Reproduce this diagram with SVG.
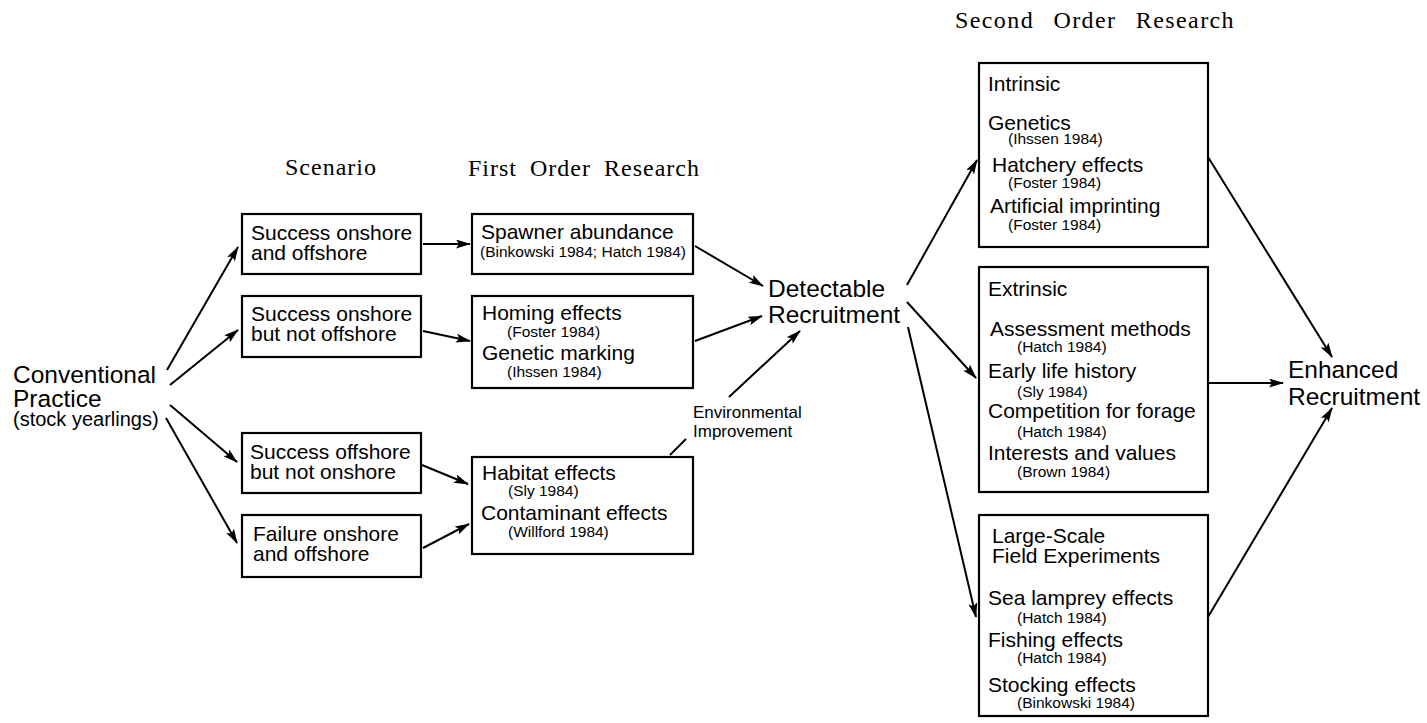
<svg xmlns="http://www.w3.org/2000/svg" width="1427" height="723" viewBox="0 0 1427 723">
<style>
.box{fill:#fff;stroke:#000;stroke-width:2.2}
.t{font-family:"Liberation Sans",Arial,sans-serif;font-size:21px;fill:#000}
.c{font-family:"Liberation Sans",Arial,sans-serif;font-size:15.5px;fill:#000}
.big{font-family:"Liberation Sans",Arial,sans-serif;font-size:24.5px;fill:#000}
.env{font-family:"Liberation Sans",Arial,sans-serif;font-size:17px;fill:#000}
.hd{font-family:"Liberation Serif","Times New Roman",serif;font-size:24px;letter-spacing:1px;word-spacing:8px;fill:#000}
.ln{stroke:#000;stroke-width:2;fill:none}
.ar{stroke:#000;stroke-width:2;fill:none;marker-end:url(#ah)}
</style>
<defs>
<marker id="ah" viewBox="0 0 15 9" refX="14" refY="4.5" markerWidth="15" markerHeight="9" markerUnits="userSpaceOnUse" orient="auto">
<path d="M0,0 L15,4.5 L0,9 L3,4.5 z" fill="#000"/>
</marker>
</defs>
<rect width="1427" height="723" fill="#fff"/>

<g id="headers">
<text class="hd" x="285" y="175">Scenario</text>
<text class="hd" x="468" y="176" style="word-spacing:6px">First Order Research</text>
<text class="hd" x="955" y="28" style="letter-spacing:1.4px;word-spacing:12px">Second Order Research</text>
</g>

<g id="conventional">
<text class="big" x="13" y="383">Conventional</text>
<text class="big" x="13" y="407">Practice</text>
<text class="t" x="13" y="426" style="font-size:20px">(stock yearlings)</text>
</g>

<g id="scen1">
<rect class="box" x="242" y="214" width="179" height="60"/>
<text class="t" x="251" y="240">Success onshore</text>
<text class="t" x="251" y="260">and offshore</text>
</g>
<g id="scen2">
<rect class="box" x="242" y="296" width="179" height="61"/>
<text class="t" x="251" y="321">Success onshore</text>
<text class="t" x="251" y="341">but not offshore</text>
</g>
<g id="scen3">
<rect class="box" x="242" y="433" width="179" height="60"/>
<text class="t" x="250" y="459">Success offshore</text>
<text class="t" x="250" y="479">but not onshore</text>
</g>
<g id="scen4">
<rect class="box" x="242" y="515" width="179" height="62"/>
<text class="t" x="253" y="541">Failure onshore</text>
<text class="t" x="253" y="561">and offshore</text>
</g>

<g id="spawner">
<rect class="box" x="472" y="214" width="221" height="60"/>
<text class="t" x="481" y="239">Spawner abundance</text>
<text class="c" x="480" y="257">(Binkowski 1984; Hatch 1984)</text>
</g>
<g id="homing">
<rect class="box" x="472" y="296" width="221" height="92"/>
<text class="t" x="482" y="320">Homing effects</text>
<text class="c" x="507" y="337">(Foster 1984)</text>
<text class="t" x="482" y="360">Genetic marking</text>
<text class="c" x="507" y="377">(Ihssen 1984)</text>
</g>
<g id="habitat">
<rect class="box" x="472" y="457" width="221" height="97"/>
<text class="t" x="482" y="480">Habitat effects</text>
<text class="c" x="508" y="496">(Sly 1984)</text>
<text class="t" x="481" y="520">Contaminant effects</text>
<text class="c" x="508" y="537">(Willford 1984)</text>
</g>

<g id="envlabel">
<text class="env" x="693" y="418">Environmental</text>
<text class="env" x="693" y="437">Improvement</text>
</g>

<g id="detectable">
<text class="big" x="768" y="297">Detectable</text>
<text class="big" x="768" y="323">Recruitment</text>
</g>

<g id="intrinsic">
<rect class="box" x="979" y="63" width="229" height="184"/>
<text class="t" x="988" y="91">Intrinsic</text>
<text class="t" x="988" y="130">Genetics</text>
<text class="c" x="1008" y="144">(Ihssen 1984)</text>
<text class="t" x="992" y="172">Hatchery effects</text>
<text class="c" x="1008" y="188">(Foster 1984)</text>
<text class="t" x="990" y="213">Artificial imprinting</text>
<text class="c" x="1008" y="230">(Foster 1984)</text>
</g>
<g id="extrinsic">
<rect class="box" x="979" y="267" width="229" height="225"/>
<text class="t" x="988" y="296">Extrinsic</text>
<text class="t" x="990" y="336">Assessment methods</text>
<text class="c" x="1017" y="352">(Hatch 1984)</text>
<text class="t" x="988" y="378">Early life history</text>
<text class="c" x="1017" y="397">(Sly 1984)</text>
<text class="t" x="988" y="418">Competition for forage</text>
<text class="c" x="1017" y="437">(Hatch 1984)</text>
<text class="t" x="988" y="460">Interests and values</text>
<text class="c" x="1017" y="477">(Brown 1984)</text>
</g>
<g id="largescale">
<rect class="box" x="979" y="515" width="229" height="201"/>
<text class="t" x="992" y="543">Large-Scale</text>
<text class="t" x="992" y="563">Field Experiments</text>
<text class="t" x="988" y="605">Sea lamprey effects</text>
<text class="c" x="1017" y="623">(Hatch 1984)</text>
<text class="t" x="988" y="647">Fishing effects</text>
<text class="c" x="1017" y="663">(Hatch 1984)</text>
<text class="t" x="988" y="692">Stocking effects</text>
<text class="c" x="1017" y="708">(Binkowski 1984)</text>
</g>

<g id="enhanced">
<text class="big" x="1288" y="378">Enhanced</text>
<text class="big" x="1288" y="405">Recruitment</text>
</g>

<g id="connectors">
<line class="ar" x1="167" y1="370" x2="238" y2="247"/>
<line class="ar" x1="170" y1="385" x2="238" y2="330"/>
<line class="ar" x1="170" y1="405" x2="237" y2="462"/>
<line class="ar" x1="166" y1="418" x2="237" y2="543"/>
<line class="ar" x1="423" y1="244" x2="470" y2="244"/>
<line class="ar" x1="423" y1="331" x2="470" y2="341"/>
<line class="ar" x1="422" y1="465" x2="468" y2="484"/>
<line class="ar" x1="423" y1="548" x2="469" y2="524"/>
<line class="ar" x1="695" y1="246" x2="763" y2="286"/>
<line class="ar" x1="695" y1="341" x2="762" y2="316"/>
<line class="ar" x1="729" y1="397" x2="800" y2="331"/>
<line class="ln" x1="670" y1="455" x2="686" y2="439"/>
<line class="ar" x1="907" y1="285" x2="977" y2="160"/>
<line class="ar" x1="907" y1="302" x2="976" y2="378"/>
<line class="ar" x1="908" y1="327" x2="976" y2="617"/>
<line class="ar" x1="1208" y1="157" x2="1332" y2="357"/>
<line class="ar" x1="1208" y1="383" x2="1283" y2="383"/>
<line class="ar" x1="1208" y1="617" x2="1332" y2="408"/>
</g>
</svg>
